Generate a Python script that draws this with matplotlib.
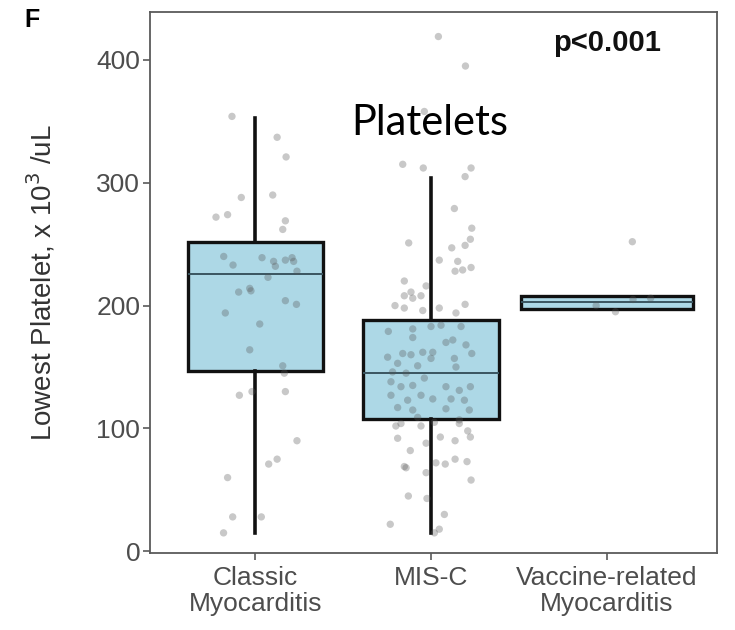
import matplotlib
matplotlib.use("Agg")
import matplotlib.pyplot as plt

plt.rcParams['font.family'] = ['Liberation Sans', 'DejaVu Sans']

# groups and tick labels
groups = ['Classic\nMyocarditis', 'MIS-C', 'Vaccine-related\nMyocarditis']

# box statistics (x10^3/uL)
box_q1 = [147, 108, 197]
box_med = [226, 145, 203]
box_q3 = [252, 188, 208]
whisk_lo = [15, 15, 197]
whisk_hi = [353, 304, 208]
box_width = [0.77, 0.77, 0.98]

# jittered observations: horizontal jitter offset and value
classic_dx = [-0.133, 0.124, 0.175, -0.08, 0.099, -0.224, -0.158, 0.171, 0.156,
              -0.18, -0.127, 0.038, 0.104, 0.114, 0.171, 0.209, 0.218, 0.237, 0.072,
              -0.032, -0.025, -0.095, 0.171, 0.234, -0.171, 0.025, -0.032, 0.156, 0.165,
              -0.091, -0.019, 0.171, 0.237, 0.076, 0.124, -0.158, -0.129, 0.034, -0.181]
classic_y = [354, 337, 321, 288, 290, 272, 274, 269, 262,
             240, 233, 239, 236, 232, 237, 239, 236, 228, 223,
             214, 212, 211, 204, 201, 194, 185, 164, 151, 145,
             127, 130, 130, 90, 71, 75, 60, 28, 28, 15]

misc_dx = [0.042, 0.196, -0.038, -0.161, -0.044, 0.228, 0.194,
           0.133, 0.232, 0.224, -0.127, 0.118, 0.194, 0.047, 0.152, 0.137, 0.18, 0.228,
           -0.152, -0.028, -0.114, -0.152, -0.104, -0.057, -0.205, -0.152, -0.047, 0.047,
           0.194, 0.142,
           -0.243, -0.104, -0.104, 0.0, 0.057, 0.171, 0.085, 0.124, 0.199, 0.232,
           -0.247, -0.161, -0.114, -0.047, 0.01, 0.0, -0.076, 0.133, 0.142, -0.19,
           -0.219, -0.142, -0.038, -0.228, -0.171, -0.104, 0.085, 0.161, 0.224, -0.228,
           -0.133, -0.057, 0.01, 0.114, 0.19, -0.19, -0.104, 0.085, 0.218, -0.076,
           0.019, -0.171, 0.161,
           -0.2, -0.057, 0.161, 0.209, -0.19, -0.028, 0.053, 0.137, 0.224, -0.118,
           -0.152, -0.142, 0.028, 0.081, 0.137, 0.205, -0.028, 0.228, -0.129, -0.023,
           0.076, -0.232, 0.047, 0.019]
misc_y = [419, 395, 358, 315, 312, 312, 305,
          279, 263, 254, 251, 247, 249, 237, 236, 228, 229, 231,
          220, 216, 211, 208, 206, 208, 200, 198, 196, 198,
          201, 194,
          179, 181, 174, 183, 184, 183, 170, 172, 168, 161,
          158, 161, 160, 162, 162, 157, 151, 157, 150, 153,
          146, 145, 141, 138, 134, 135, 134, 131, 134, 127,
          123, 127, 124, 124, 123, 117, 115, 116, 115, 109,
          105, 104, 107,
          102, 102, 104, 98, 92, 88, 93, 90, 93, 82,
          69, 68, 72, 71, 75, 73, 64, 58, 45, 43,
          30, 22, 18, 15]

vacc_dx = [0.146, 0.05, -0.06, 0.15, 0.25]
vacc_y = [252, 195, 200, 205, 206]

fig = plt.figure(figsize=(7.35, 6.3), dpi=100)
ax = fig.add_axes([0.204, 0.122, 0.772, 0.859])

stats = []
for i in range(3):
    stats.append({'med': box_med[i], 'q1': box_q1[i], 'q3': box_q3[i],
                  'whislo': whisk_lo[i], 'whishi': whisk_hi[i], 'fliers': []})

ax.bxp(stats, positions=[1, 2, 3], widths=box_width, patch_artist=True,
       showcaps=False, showfliers=False,
       boxprops=dict(facecolor='#add8e6', edgecolor='#111111', linewidth=2.4),
       medianprops=dict(color='#3a5560', linewidth=1.4),
       whiskerprops=dict(color='#111111', linewidth=2.6))

for pos, dx, yy in [(1, classic_dx, classic_y), (2, misc_dx, misc_y), (3, vacc_dx, vacc_y)]:
    ax.scatter([pos + d for d in dx], yy, s=28, color='#555555', alpha=0.32,
               edgecolors='none', zorder=5)

ax.set_xlim(0.4, 3.63)
ax.set_ylim(-1.5, 439)
ax.set_yticks([0, 100, 200, 300, 400])
ax.set_xticks([1, 2, 3])
ax.set_xticklabels(groups, linespacing=1.1)

for s in ax.spines.values():
    s.set_color('#5a5a5a')
    s.set_linewidth(1.3)
ax.tick_params(colors='#5a5a5a', labelcolor='#4d4d4d', labelsize=19, length=5, width=1.2)
ax.tick_params(axis='y', pad=2)
ax.tick_params(axis='x', pad=4)

ax.set_ylabel('Lowest Platelet, x 10$^3$ /uL', fontsize=20, color='#333333', labelpad=28)

ax.text(0.494, 0.795, 'Platelets', transform=ax.transAxes, ha='center', va='center',
        fontsize=30, family=['Lato', 'DejaVu Sans'], color='black')
ax.text(0.806, 0.943, 'p<0.001', transform=ax.transAxes, ha='center', va='center',
        fontsize=21, fontweight='bold', color='#111111')
fig.text(0.033, 0.968, 'F', ha='left', va='center', fontsize=18, fontweight='bold')

fig.savefig('out.png', dpi=100)
